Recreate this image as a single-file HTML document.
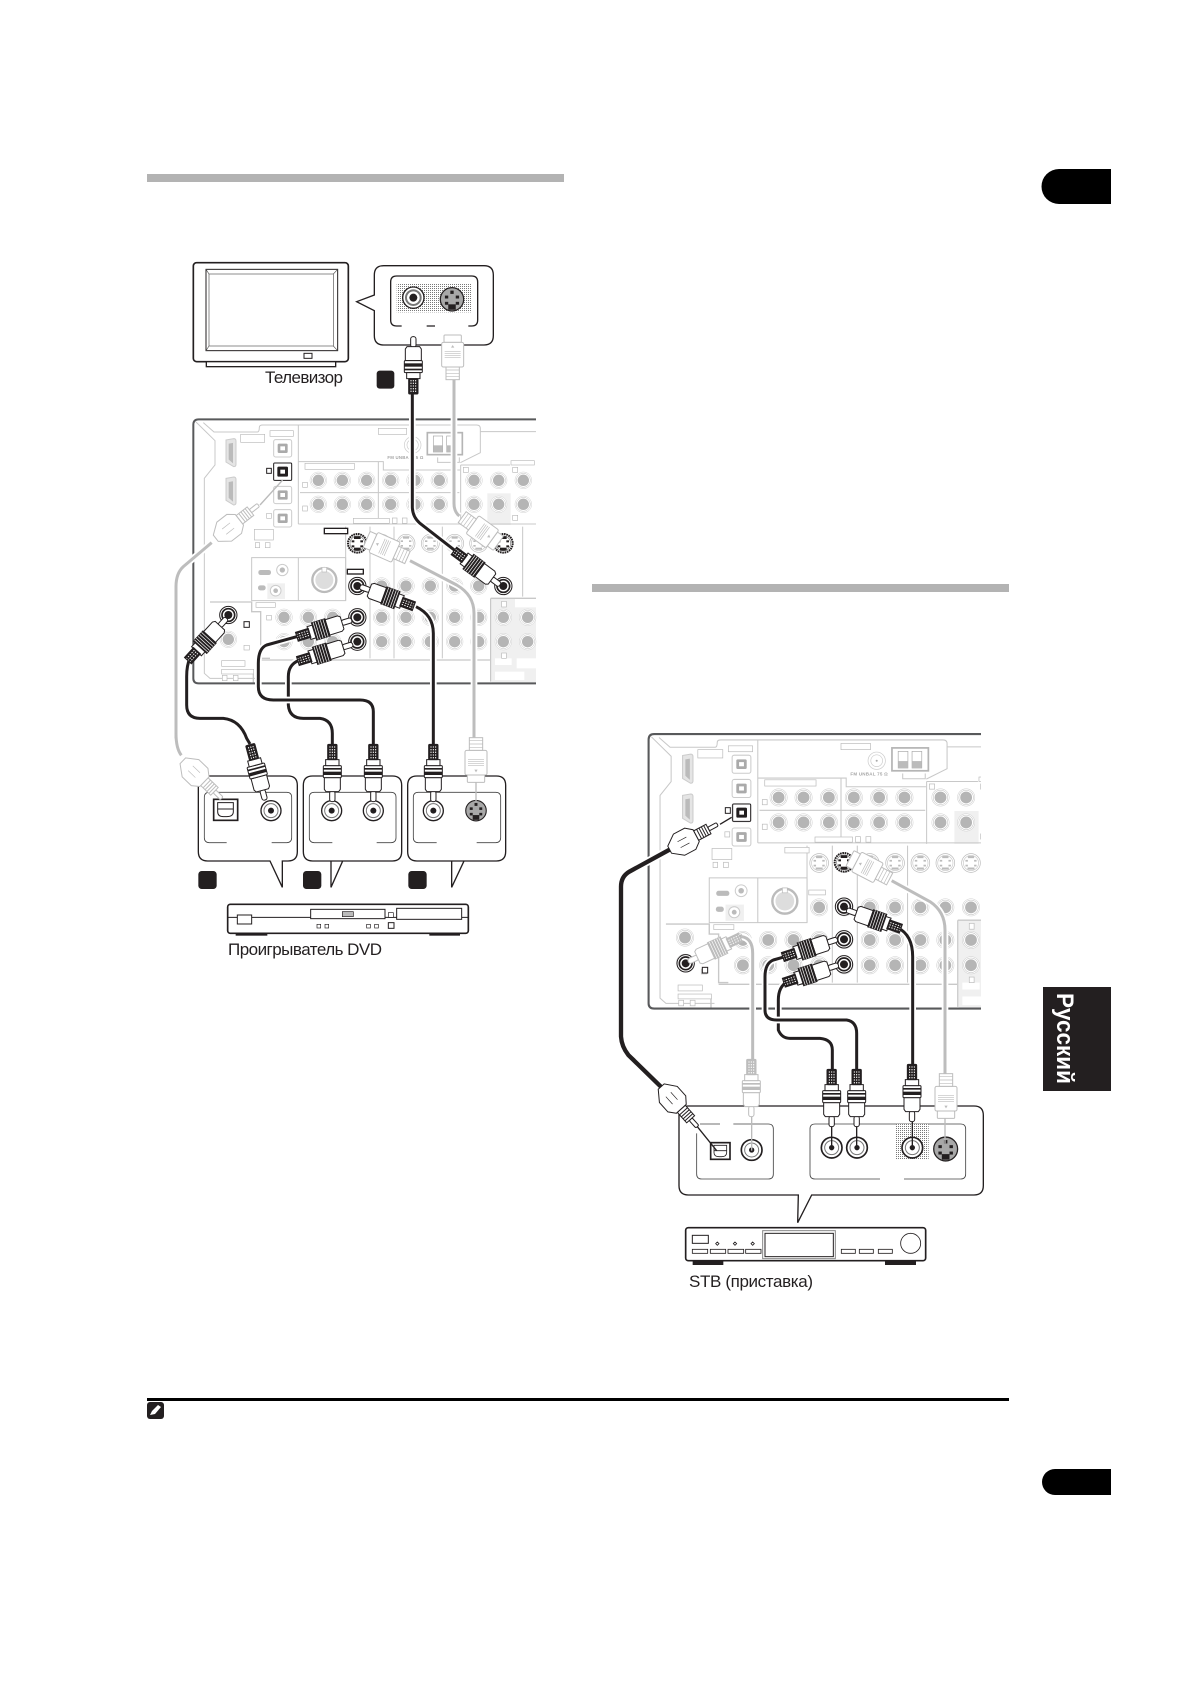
<!DOCTYPE html>
<html><head><meta charset="utf-8"><style>
html,body{margin:0;padding:0;background:#fff}
svg{display:block}
.k{fill:none;stroke:#231f20;stroke-width:9;stroke-linejoin:round}
.g{fill:none;stroke:#bdbdbd;stroke-width:9;stroke-linejoin:round}
.h{fill:none;stroke:#fff;stroke-width:20;stroke-linejoin:round}
.o{fill:none;stroke:#231f20;stroke-width:4}
.p{fill:none;stroke:#c8c8c8;stroke-width:3}
.t{font-family:"Liberation Sans",sans-serif;fill:#231f20}
</style></head><body>
<svg xmlns="http://www.w3.org/2000/svg" width="1190" height="1684" viewBox="0 0 1190 1684">
<defs>
<clipPath id="rclip"><rect x="0" y="-20" width="1083" height="900"/></clipPath>
<pattern id="dot" width="6" height="6" patternUnits="userSpaceOnUse"><rect width="6" height="6" fill="#fff"/><rect width="3" height="3" fill="#777"/></pattern>
<g id="j"><circle r="25" fill="#fff" stroke="#d0d0d0" stroke-width="1.5"/><circle r="21" fill="#fff" stroke="#c0c0c0" stroke-width="1.5"/><circle r="17" fill="#b5b5b5"/></g>
<g id="jb"><circle r="26" fill="#fff" stroke="#231f20" stroke-width="3"/><circle r="19" fill="#fff" stroke="#231f20" stroke-width="5"/><circle r="12" fill="#231f20"/></g>
<g id="s"><circle r="27" fill="#fff" stroke="#bbb" stroke-width="2"/><circle r="22" fill="#fff" stroke="#ccc" stroke-width="2"/><g fill="#bbb"><rect x="-16" y="-9" width="7" height="5"/><rect x="9" y="-9" width="7" height="5"/><rect x="-16" y="5" width="7" height="5"/><rect x="9" y="5" width="7" height="5"/><rect x="-10" y="13" width="20" height="6"/><rect x="-9" y="-20" width="18" height="6"/></g></g>
<g id="sb"><circle r="28" fill="#fff" stroke="#231f20" stroke-width="6" stroke-dasharray="5 2"/><circle r="22" fill="#fff" stroke="#777" stroke-width="2"/><g fill="#231f20"><rect x="-17" y="-9" width="8" height="6"/><rect x="9" y="-9" width="8" height="6"/><rect x="-17" y="6" width="8" height="6"/><rect x="9" y="6" width="8" height="6"/><rect x="-10" y="13" width="20" height="9"/><rect x="-10" y="-21" width="20" height="8"/></g></g>
<g id="sg"><circle r="28" fill="#a8a8a8" stroke="#231f20" stroke-width="3"/><g fill="#231f20"><rect x="-17" y="-9" width="8" height="7"/><rect x="9" y="-9" width="8" height="7"/><rect x="-17" y="6" width="8" height="7"/><rect x="9" y="6" width="8" height="7"/><rect x="-9" y="12" width="18" height="13"/><rect x="-4" y="-21" width="8" height="8"/></g></g>
<g id="op"><rect x="-27" y="-26" width="54" height="52" rx="6" fill="#fff" stroke="#ccc" stroke-width="3"/><rect x="-15" y="-14" width="30" height="28" rx="4" fill="#aaa"/><rect x="-7" y="-6" width="14" height="12" fill="#fff"/></g>
<g id="opb"><rect x="-27" y="-26" width="54" height="52" rx="3" fill="#fff" stroke="#231f20" stroke-width="3"/><rect x="-16" y="-15" width="32" height="30" rx="4" fill="#231f20"/><rect x="-7" y="-6" width="14" height="12" fill="#fff"/></g>
<g id="hd"><path d="M-15,-38 L8,-42 Q15,-42 15,-35 V35 Q15,42 8,42 L-15,28Z" fill="#e5e5e5" stroke="#ccc" stroke-width="3"/><path d="M-6,-26 L5,-28 V30 L-6,20Z" fill="#bbb" stroke="#bbb" stroke-width="2"/></g>

<g id="rowA"><use href="#j" x="445"/><use href="#j" x="517"/><use href="#j" x="590"/><use href="#j" x="662"/><use href="#j" x="735"/><use href="#j" x="808"/><use href="#j" x="912"/><use href="#j" x="986"/><use href="#j" x="1060"/></g>
<g id="rowC"><use href="#j" x="562"/><use href="#j" x="635"/><use href="#j" x="708"/><use href="#j" x="781"/><use href="#j" x="854"/><use href="#j" x="926"/><use href="#j" x="1000"/></g>
<g id="rowS"><use href="#s" x="562"/><use href="#s" x="635"/><use href="#s" x="708"/><use href="#s" x="781"/><use href="#s" x="854"/><use href="#s" x="926"/><use href="#s" x="1000"/></g>
<g id="rowD"><use href="#j" x="342"/><use href="#j" x="415"/><use href="#j" x="488"/><use href="#j" x="562"/><use href="#j" x="635"/><use href="#j" x="708"/><use href="#j" x="781"/><use href="#j" x="854"/><use href="#j" x="926"/><use href="#j" x="1000"/><use href="#j" x="1073"/></g>

<g id="panel">
<rect x="952" y="250" width="70" height="95" fill="#f0f0f0"/>
<rect x="965" y="567" width="133" height="250" fill="#f0f0f0"/>
<rect x="975" y="745" width="50" height="20" fill="#fff"/><rect x="1040" y="745" width="58" height="30" fill="#fff"/><rect x="975" y="785" width="88" height="25" fill="#fff"/><rect x="1035" y="567" width="63" height="25" fill="#fff"/>
<rect x="292" y="520" width="53" height="47" fill="#f0f0f0"/>
<g class="p">
<path d="M78,36 L135,92 V165 L103,205 V790 L120,805 H260"/>
<path d="M100,38 L132,66 H262 Q268,66 268,52 Q268,45 278,45 H920 Q931,45 931,56 V128 L871,158"/>
<path d="M931,65 H1098M872,165 H1020M872,165 V345"/>
<path d="M385,45 V342 M385,342 H1098"/>
<path d="M385,155 H640 V180 H870"/>
<path d="M625,155 V342 M390,248 H868"/>
<path d="M245,443 H527 V572 H245Z M385,443 V572"/>
<path d="M120,576 H245 V605 H272 V745 H300 M272,750 H960" stroke-width="4"/>
<path d="M600,350 V745 M672,350 V745 M817,350 V745 M527,350 V572 M600,572 V745 M1058,350 V560"/>
<path d="M250,790 V820 M962,565 V815" stroke-width="4"/>
<path d="M962,565 H1098" stroke-width="4"/>
<path d="M803,142 V157 H868 V142"/>
</g>
<g fill="#fff" stroke="#bbb" stroke-width="2">
<rect x="212" y="73" width="72" height="24"/><rect x="300" y="62" width="70" height="17"/><rect x="625" y="55" width="85" height="18"/><rect x="405" y="160" width="148" height="18"/><rect x="550" y="325" width="108" height="15"/><rect x="667" y="324" width="14" height="16"/><rect x="697" y="324" width="14" height="16"/>
<rect x="463" y="355" width="70" height="16"/><rect x="253" y="358" width="57" height="32"/><rect x="256" y="398" width="13" height="15"/><rect x="286" y="398" width="14" height="15"/>
<rect x="398" y="217" width="14" height="15"/><rect x="398" y="288" width="14" height="15"/><rect x="880" y="172" width="15" height="15"/><rect x="1028" y="172" width="15" height="15"/><rect x="1028" y="316" width="15" height="15"/><rect x="1023" y="152" width="70" height="13"/><rect x="290" y="310" width="14" height="15"/>
<rect x="532" y="478" width="48" height="14"/><rect x="258" y="578" width="58" height="14"/><rect x="290" y="616" width="14" height="14"/><rect x="222" y="706" width="16" height="14"/><rect x="155" y="752" width="70" height="17"/><rect x="155" y="778" width="96" height="14"/><rect x="157" y="796" width="14" height="16"/><rect x="190" y="796" width="14" height="16"/>
<rect x="995" y="574" width="14" height="17"/><rect x="995" y="729" width="14" height="16"/>
</g>
<use href="#hd" x="183" y="128"/><use href="#hd" x="183" y="243"/>
<use href="#op" x="338" y="115"/><use href="#op" x="338" y="185"/><use href="#op" x="338" y="255"/><use href="#op" x="338" y="325"/>
<circle cx="728" cy="105" r="25" fill="#fff" stroke="#ccc" stroke-width="2"/><circle cx="728" cy="105" r="17" fill="#fff" stroke="#ccc" stroke-width="2"/><circle cx="728" cy="105" r="3" fill="#aaa"/>
<text x="652" y="147" class="t" style="fill:#a5a5a5;font-weight:bold;font-size:13px" textLength="108">FM UNBAL 75 Ω</text>
<rect x="772" y="68" width="105" height="66" fill="#fff" stroke="#b5b5b5" stroke-width="5"/><rect x="790" y="78" width="28" height="48" fill="#fff" stroke="#aaa" stroke-width="2"/><rect x="830" y="78" width="28" height="48" fill="#fff" stroke="#aaa" stroke-width="2"/><rect x="790" y="106" width="28" height="20" fill="#bbb"/><rect x="830" y="106" width="28" height="20" fill="#bbb"/>
<use href="#rowA" y="211"/><use href="#rowA" y="283"/>
<use href="#rowS" y="400"/><use href="#rowC" y="528"/>
<use href="#rowD" y="622"/><use href="#rowD" y="695"/>
<use href="#j" x="175" y="615"/><use href="#j" x="175" y="688"/>
<rect x="265" y="480" width="38" height="15" rx="7" fill="#bbb"/><circle cx="337" cy="480" r="17" fill="#fff" stroke="#ccc" stroke-width="3"/><circle cx="337" cy="480" r="8" fill="#bbb"/>
<rect x="264" y="526" width="23" height="15" rx="7" fill="#bbb"/><circle cx="317" cy="542" r="16" fill="#fff" stroke="#ccc" stroke-width="3"/><circle cx="317" cy="542" r="7" fill="#bbb"/>
<circle cx="463" cy="510" r="36" fill="#fff" stroke="#bbb" stroke-width="7"/><circle cx="463" cy="510" r="27" fill="#ddd"/><rect x="456" y="472" width="14" height="14" fill="#fff" stroke="#bbb" stroke-width="2"/>
<path d="M70,805 V44 Q70,28 86,28 H1098 M70,805 Q70,820 86,820 H1098" fill="none" stroke="#58595b" stroke-width="6"/>
</g>

<g id="rca" stroke="currentColor" stroke-width="3" fill="#fff">
<rect x="0" y="-8" width="32" height="16" rx="7"/>
<path d="M30,-19 L37,-24 H76 V24 H37 L30,19Z"/>
<rect x="76" y="-27" width="42" height="54" fill="currentColor"/>
<path d="M82,-27V27M90,-27V27M98,-27V27M106,-27V27M113,-27V27" stroke="#fff" stroke-width="2"/>
<path d="M118,-20H134V20H118Z"/>
<rect x="132" y="-14" width="40" height="28" fill="currentColor"/>
<path d="M136,-7H170M136,0H170M136,7H170" stroke="#fff" stroke-width="3" stroke-dasharray="4 4"/>
</g>
<g id="rv" stroke="currentColor" stroke-width="3" fill="#fff">
<rect x="0" y="-8" width="32" height="16" rx="7"/>
<path d="M30,-19 L37,-24 H72 V24 H37 L30,19Z"/>
<rect x="72" y="-27" width="36" height="54" rx="3"/>
<rect x="80" y="-27" width="10" height="54" fill="currentColor" stroke="none"/>
<rect x="96" y="-27" width="5" height="54" fill="currentColor" stroke="none"/>
<path d="M108,-20H126V20H108Z"/>
<rect x="126" y="-14" width="46" height="28" rx="3" fill="currentColor"/>
<path d="M130,-7H168M130,0H168M130,7H168" stroke="#fff" stroke-width="3" stroke-dasharray="4 4"/>
</g>
<g id="sp" stroke="currentColor" stroke-width="3" fill="#fff">
<rect x="0" y="-26" width="22" height="52" rx="3"/>
<rect x="22" y="-33" width="74" height="66" rx="5"/>
<path d="M38,-5 L38,5 L30,0Z" fill="currentColor" stroke="none"/>
<path d="M50,-24V24M56,-24V24M62,-24V24M68,-24V24" stroke-width="2"/>
<rect x="96" y="-20" width="38" height="40"/>
<path d="M105,-20V20M115,-20V20M125,-20V20" stroke-width="2"/>
</g>
<g id="oc" stroke="currentColor" stroke-width="3" fill="#fff">
<rect x="0" y="-6" width="30" height="12" rx="4"/>
<rect x="30" y="-16" width="42" height="32"/>
<path d="M38,-16V16M46,-16V16M54,-16V16M62,-16V16" stroke-width="3"/>
<path d="M72,-20 L92,-36 H130 L162,-12 V12 L130,36 H92 L72,20Z"/>
<path d="M100,-10H130M100,10H130" stroke-width="2"/>
</g>
</defs>

<rect width="1190" height="1684" fill="#fff"/>
<rect x="147" y="174" width="417" height="8" fill="#b3b3b3"/>
<rect x="592" y="584" width="417" height="8" fill="#b3b3b3"/>
<path d="M1111,169 H1059 A17.5,17.5 0 0 0 1059,204 H1111Z" fill="#000"/>
<path d="M1111,1469 H1055 A13,13 0 0 0 1055,1495 H1111Z" fill="#000"/>
<rect x="1043" y="987" width="68" height="104" fill="#231f20"/>
<text transform="translate(1057,993) rotate(90)" class="t" style="fill:#fff;font-weight:bold;font-size:24px" textLength="91" lengthAdjust="spacingAndGlyphs">Русский</text>
<rect x="147" y="1398" width="862" height="3" fill="#000"/>
<rect x="147" y="1402" width="17" height="17" rx="3" fill="#231f20"/>
<path d="M150,1415 L152,1411 L158,1405 L161,1407 L155,1414Z" fill="#fff"/>

<g transform="translate(170,410) scale(.33333)">
<!-- TV -->
<rect x="70" y="-442" width="465" height="297" rx="10" fill="#fff" stroke="#231f20" stroke-width="5"/>
<rect x="108" y="-422" width="395" height="244" fill="#fff" stroke="#231f20" stroke-width="3"/>
<rect x="117" y="-408" width="373" height="216" fill="#fff" stroke="#555" stroke-width="2"/>
<path d="M108,-422 L117,-408 M503,-422 L490,-408 M108,-178 L117,-192 M503,-178 L490,-192" stroke="#555" stroke-width="2"/>
<rect x="109" y="-145" width="388" height="15" fill="#fff" stroke="#231f20" stroke-width="4"/>
<rect x="402" y="-170" width="24" height="15" fill="#fff" stroke="#231f20" stroke-width="3"/>
<!-- TV callout -->
<path d="M613,-345 V-405 Q613,-433 641,-433 H942 Q970,-433 970,-405 V-223 Q970,-195 942,-195 H641 Q613,-195 613,-223 V-298 L560,-325Z" fill="#fff" stroke="#231f20" stroke-width="4"/>
<rect x="680" y="-378" width="223" height="85" fill="url(#dot)"/>
<path d="M695,-252 H680 Q662,-252 662,-270 V-384 Q662,-402 680,-402 H905 Q923,-402 923,-384 V-270 Q923,-252 905,-252 H895 M770,-252 H795" class="o" stroke-width="3"/>
<circle cx="730" cy="-337" r="32" fill="#fff" stroke="#231f20" stroke-width="4"/><circle cx="730" cy="-337" r="22" fill="#fff" stroke="#777" stroke-width="6"/><circle cx="730" cy="-337" r="12" fill="#231f20"/>
<g transform="translate(846,-332) scale(1.25)"><use href="#sg"/></g>
<rect x="620" y="-118" width="53" height="54" rx="9" fill="#231f20"/>

<use href="#panel"/>
<!-- highlights left -->
<use href="#opb" x="338" y="185"/>
<rect x="290" y="175" width="14" height="15" fill="#fff" stroke="#231f20" stroke-width="3"/>
<rect x="463" y="355" width="70" height="16" fill="#fff" stroke="#231f20" stroke-width="4"/>
<rect x="532" y="478" width="48" height="14" fill="#fff" stroke="#231f20" stroke-width="4"/>
<rect x="222" y="635" width="16" height="17" fill="#fff" stroke="#231f20" stroke-width="3"/>
<use href="#sb" x="562" y="400"/><use href="#sb" x="1000" y="400"/>
<use href="#jb" x="562" y="528"/><use href="#jb" x="1000" y="528"/><use href="#jb" x="562" y="622"/><use href="#jb" x="562" y="695"/><use href="#jb" x="175" y="615"/>
<path d="M338,210 L270,285" stroke="#bbb" stroke-width="4"/>

<!-- DVD boxes -->
<path d="M300,1353 H113 Q85,1353 85,1325 V1126 Q85,1098 113,1098 H354 Q382,1098 382,1126 V1325 Q382,1353 354,1353 H337 V1432Z" fill="#fff" stroke="#231f20" stroke-width="4"/>
<path d="M518,1353 H428 Q400,1353 400,1325 V1126 Q400,1098 428,1098 H667 Q695,1098 695,1126 V1325 Q695,1353 667,1353 H483 V1432Z" fill="#fff" stroke="#231f20" stroke-width="4"/>
<path d="M882,1353 H741 Q713,1353 713,1325 V1126 Q713,1098 741,1098 H979 Q1007,1098 1007,1126 V1325 Q1007,1353 979,1353 H845 V1432Z" fill="#fff" stroke="#231f20" stroke-width="4"/>
<g fill="none" stroke="#444" stroke-width="2.5">
<path d="M170,1298 H118 Q103,1298 103,1283 V1162 Q103,1147 118,1147 H350 Q365,1147 365,1162 V1283 Q365,1298 350,1298 H305"/>
<path d="M487,1298 H433 Q418,1298 418,1283 V1162 Q418,1147 433,1147 H663 Q678,1147 678,1162 V1283 Q678,1298 663,1298 H620"/>
<path d="M800,1298 H745 Q730,1298 730,1283 V1162 Q730,1147 745,1147 H977 Q992,1147 992,1162 V1283 Q992,1298 977,1298 H920"/>
</g>
<rect x="131" y="1168" width="72" height="63" fill="#fff" stroke="#231f20" stroke-width="5"/><path d="M143,1178 H190 V1205 Q190,1220 170,1220 H160 Q143,1220 143,1205Z M143,1197 H190" fill="#fff" stroke="#231f20" stroke-width="3"/>
<g id="bigj"><circle cx="303" cy="1202" r="30" fill="#fff" stroke="#231f20" stroke-width="4"/><circle cx="303" cy="1202" r="21" fill="#fff" stroke="#777" stroke-width="3"/><circle cx="303" cy="1202" r="9" fill="#231f20"/></g>
<use href="#bigj" x="182"/><use href="#bigj" x="307"/><use href="#bigj" x="487"/>
<g transform="translate(918,1202) scale(1.1)"><use href="#sg"/></g>
<rect x="85" y="1383" width="55" height="54" rx="10" fill="#231f20"/><rect x="399" y="1383" width="55" height="54" rx="10" fill="#231f20"/><rect x="715" y="1383" width="55" height="54" rx="10" fill="#231f20"/>
<!-- DVD player -->
<rect x="197" y="1567" width="95" height="10" fill="#231f20"/><rect x="778" y="1567" width="92" height="10" fill="#231f20"/>
<rect x="173" y="1483" width="722" height="87" rx="8" fill="#fff" stroke="#231f20" stroke-width="5"/>
<path d="M175,1522 H893" stroke="#231f20" stroke-width="3"/>
<rect x="422" y="1498" width="223" height="28" fill="#fff" stroke="#231f20" stroke-width="3"/><rect x="517" y="1505" width="33" height="15" fill="#bbb" stroke="#231f20" stroke-width="2"/>
<rect x="680" y="1495" width="195" height="33" fill="#fff" stroke="#231f20" stroke-width="3"/>
<rect x="202" y="1515" width="43" height="27" fill="#fff" stroke="#231f20" stroke-width="3"/>
<rect x="655" y="1508" width="15" height="14" fill="#fff" stroke="#231f20" stroke-width="2"/><rect x="655" y="1538" width="17" height="17" fill="#fff" stroke="#231f20" stroke-width="3"/>
<rect x="441" y="1543" width="11" height="11" fill="#fff" stroke="#231f20" stroke-width="2"/><rect x="465" y="1543" width="11" height="11" fill="#fff" stroke="#231f20" stroke-width="2"/><rect x="590" y="1543" width="11" height="11" fill="#fff" stroke="#231f20" stroke-width="2"/><rect x="614" y="1543" width="11" height="11" fill="#fff" stroke="#231f20" stroke-width="2"/>

<!-- left cables -->
<path class="h" d="M18,970 V530 Q18,490 40,470 L125,398"/><path class="g" d="M18,985 V530 Q18,490 40,470 L125,398"/>
<path class="g" d="M18,970 Q18,1015 34,1036"/>
<path class="h" d="M852,-90 V280 Q852,305 868,318"/><path class="g" d="M852,-90 V280 Q852,305 868,318"/>
<path class="h" d="M720,452 L860,525 Q912,555 912,610 V982"/><path class="g" d="M720,452 L860,525 Q912,555 912,610 V982"/>
<path class="h" d="M727,-50 V290 Q727,320 750,340 L858,424"/><path class="k" d="M727,-50 V290 Q727,320 750,340 L858,424"/>
<path class="h" d="M385,752 Q355,765 355,800 V885 Q358,925 400,925 H450 Q487,930 487,970 V1005"/><path class="k" d="M385,752 Q355,765 355,800 V885 Q358,925 400,925 H450 Q487,930 487,970 V1005"/>
<path class="h" d="M380,680 L290,705 Q265,715 265,760 V830 Q265,870 310,870 H570 Q610,870 610,905 V1005"/><path class="k" d="M380,680 L290,705 Q265,715 265,760 V830 Q265,870 310,870 H570 Q610,870 610,905 V1005"/>
<path class="h" d="M738,590 Q790,615 790,670 V1005"/><path class="k" d="M738,590 Q790,615 790,670 V1005"/>
<path class="h" d="M60,745 Q50,765 50,800 V885 Q50,925 90,925 H160 Q210,930 230,985 L240,1002"/><path class="k" d="M60,745 Q50,765 50,800 V885 Q50,925 90,925 H160 Q210,930 230,985 L240,1002"/>
<!-- left plugs -->
<g color="#231f20">
<use href="#rv" transform="translate(730,-220) rotate(90)"/>
<use href="#rca" transform="translate(990,525) rotate(216.5)"/>
<use href="#rca" transform="translate(570,530) rotate(20)"/>
<use href="#rca" transform="translate(545,630) rotate(163)"/>
<use href="#rca" transform="translate(548,703) rotate(163)"/>
<use href="#rca" transform="translate(170,625) rotate(132.5)"/>
<use href="#rv" transform="translate(285,1170) rotate(255)"/>
<use href="#rv" transform="translate(487,1175) rotate(-90)"/>
<use href="#rv" transform="translate(610,1175) rotate(-90)"/>
<use href="#rv" transform="translate(790,1175) rotate(-90)"/>
</g>
<g color="#bdbdbd">
<use href="#sp" transform="translate(848,-225) rotate(90)"/>
<use href="#sp" transform="translate(985,400) rotate(216)"/>
<use href="#sp" transform="translate(590,388) rotate(24)"/>
<use href="#sp" transform="translate(918,1117) rotate(-90)"/>
<use href="#oc" transform="translate(265,285) rotate(142)"/>
<use href="#oc" transform="translate(155,1165) rotate(224)"/>
</g>
<path d="M918,1117 V1175" stroke="#bbb" stroke-width="4"/>
</g>

<g transform="translate(620,730) scale(.33333)">
<g clip-path="url(#rclip)"><g transform="translate(13,-17) scale(1.04)"><use href="#panel"/></g></g>
<use href="#opb" x="365" y="248"/>
<rect x="316" y="233" width="15" height="17" fill="#fff" stroke="#231f20" stroke-width="3"/>
<rect x="247" y="712" width="16" height="17" fill="#fff" stroke="#231f20" stroke-width="3"/>
<use href="#sb" x="672" y="397"/><use href="#jb" x="672" y="530"/><use href="#jb" x="672" y="628"/><use href="#jb" x="672" y="703"/><use href="#jb" x="197" y="700"/>
<path d="M300,283 L335,262" stroke="#231f20" stroke-width="4"/>

<!-- box -->
<path d="M535,1395 H205 Q177,1395 177,1367 V1156 Q177,1128 205,1128 H1062 Q1090,1128 1090,1156 V1367 Q1090,1395 1062,1395 H575 L533,1478Z" fill="#fff" stroke="#231f20" stroke-width="4"/>
<path d="M240,1182 H300 M340,1182 H445 Q460,1182 460,1197 V1332 Q460,1347 445,1347 H245 Q230,1347 230,1332 V1210" fill="none" stroke="#444" stroke-width="2.5"/>
<path d="M780,1347 H585 Q570,1347 570,1332 V1197 Q570,1182 585,1182 H1022 Q1037,1182 1037,1197 V1332 Q1037,1347 1022,1347 H852" fill="none" stroke="#444" stroke-width="2.5"/>
<rect x="828" y="1182" width="98" height="108" fill="url(#dot)"/>
<rect x="272" y="1238" width="58" height="50" fill="#fff" stroke="#231f20" stroke-width="5"/><path d="M282,1246 H320 V1268 Q320,1280 305,1280 H297 Q282,1280 282,1268Z M282,1262 H320" fill="#fff" stroke="#231f20" stroke-width="2.5"/>
<g id="bj"><circle cx="395" cy="1260" r="31" fill="#fff" stroke="#231f20" stroke-width="5"/><circle cx="395" cy="1260" r="21" fill="#fff" stroke="#777" stroke-width="3"/><circle cx="395" cy="1260" r="8" fill="#231f20"/></g>
<use href="#bj" x="240" y="-7"/><use href="#bj" x="316" y="-7"/><use href="#bj" x="482" y="-7"/>
<g transform="translate(977,1257) scale(1.28)"><use href="#sg"/></g>
<!-- STB -->
<rect x="218" y="1592" width="92" height="13" fill="#231f20"/><rect x="795" y="1592" width="93" height="13" fill="#231f20"/>
<rect x="197" y="1493" width="720" height="99" rx="8" fill="#fff" stroke="#231f20" stroke-width="5"/>
<rect x="428" y="1502" width="218" height="84" fill="#fff" stroke="#888" stroke-width="3"/><rect x="435" y="1510" width="205" height="70" fill="#fff" stroke="#231f20" stroke-width="3"/>
<rect x="217" y="1516" width="48" height="24" fill="#fff" stroke="#231f20" stroke-width="3"/>
<g fill="#fff" stroke="#231f20" stroke-width="2.5">
<rect x="217" y="1558" width="46" height="12"/><rect x="271" y="1558" width="46" height="12"/><rect x="324" y="1558" width="47" height="12"/><rect x="377" y="1558" width="46" height="12"/>
<rect x="664" y="1558" width="42" height="12"/><rect x="718" y="1558" width="42" height="12"/><rect x="775" y="1558" width="42" height="12"/>
<circle cx="872" cy="1540" r="30"/>
<path d="M292,1536 l5,5 l-5,5 l-5,-5Z M345,1536 l5,5 l-5,5 l-5,-5Z M398,1536 l5,5 l-5,5 l-5,-5Z"/>
</g>
<!-- thin links -->
<path d="M232,1190 L290,1262" stroke="#231f20" stroke-width="4"/>
<path d="M635,1190 V1260 M710,1190 V1260 M877,1175 V1260" stroke="#231f20" stroke-width="4"/>
<path d="M395,1160 V1262 M975,1165 V1240" stroke="#bbb" stroke-width="4"/>
<!-- right cables -->
<path class="h" d="M365,620 Q398,625 398,670 V990"/><path class="g" d="M365,620 Q398,625 398,670 V990"/>
<path class="h" d="M815,452 L930,515 Q975,545 975,600 V1032"/><path class="g" d="M815,452 L930,515 Q975,545 975,600 V1032"/>
<path class="h" d="M502,755 Q475,770 475,810 V900 Q485,925 510,925 H600 Q637,928 637,960 V1022"/><path class="k" d="M502,755 Q475,770 475,810 V900 Q485,925 510,925 H600 Q637,928 637,960 V1022"/>
<path class="h" d="M495,680 L460,690 Q435,700 435,740 V840 Q435,870 470,870 H680 Q710,875 710,910 V1022"/><path class="k" d="M495,680 L460,690 Q435,700 435,740 V840 Q435,870 470,870 H680 Q710,875 710,910 V1022"/>
<path class="h" d="M833,593 Q878,615 878,680 V1005"/><path class="k" d="M833,593 Q878,615 878,680 V1005"/>
<path d="M165,350 L28,425 Q3,440 3,470 V920 Q5,950 25,975 L138,1085" fill="none" stroke="#fff" stroke-width="24"/>
<path d="M165,350 L28,425 Q3,440 3,470 V920 Q5,950 25,975 L138,1085" fill="none" stroke="#231f20" stroke-width="13"/>
<!-- right plugs -->
<g color="#231f20">
<use href="#rca" transform="translate(680,540) rotate(19)"/>
<use href="#rca" transform="translate(652,628) rotate(162)"/>
<use href="#rca" transform="translate(655,705) rotate(162)"/>
<use href="#rv" transform="translate(635,1190) rotate(-90)"/>
<use href="#rv" transform="translate(710,1190) rotate(-90)"/>
<use href="#rv" transform="translate(876,1175) rotate(-90)"/>
<use href="#oc" transform="translate(292,283) rotate(152)"/>
<use href="#oc" transform="translate(232,1190) rotate(228)"/>
</g>
<g color="#bdbdbd">
<use href="#rca" transform="translate(205,695) rotate(-25)"/>
<use href="#rv" transform="translate(394,1160) rotate(-90)"/>
<use href="#sp" transform="translate(690,385) rotate(27.5)"/>
<use href="#sp" transform="translate(978,1165) rotate(-90)"/>
</g>
</g>

<text x="265" y="383" class="t" style="font-size:17px" textLength="78">Телевизор</text>
<text x="228" y="955" class="t" style="font-size:17px" textLength="154">Проигрыватель DVD</text>
<text x="689" y="1287" class="t" style="font-size:17px" textLength="124">STB (приставка)</text>
</svg>
</body></html>
